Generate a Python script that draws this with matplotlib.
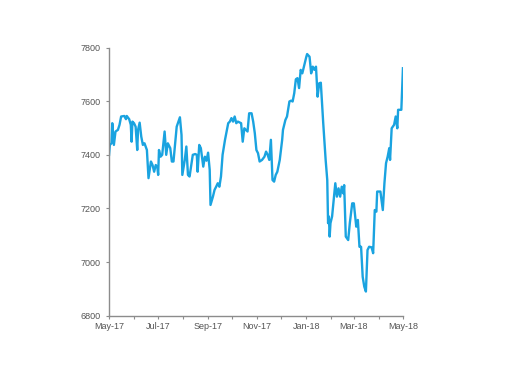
import matplotlib
matplotlib.use("Agg")
import matplotlib.pyplot as plt
import matplotlib.dates as mdates
import numpy as np
import pandas as pd

start_date = "2017-05-01"
day_offsets = [0, 1, 3, 4, 6, 8, 11, 13, 15, 19, 21, 22, 25, 27, 28, 29, 31, 33, 35, 36,
               38, 40, 42, 44, 47, 49, 52, 54, 56, 58, 60, 61, 62, 64, 66, 69, 71, 73, 76, 78,
               80, 84, 88, 90, 91, 94, 96, 98, 100, 104, 107, 109, 110, 112, 114, 117, 119, 121, 123, 125,
               126, 129, 131, 133, 135, 137, 139, 141, 144, 148, 150, 152, 154, 156, 158, 160, 164, 166, 168, 170,
               172, 174, 177, 179, 181, 183, 185, 187, 190, 193, 195, 197, 199, 201, 203, 205, 207, 209, 212, 215,
               216, 219, 221, 224, 226, 228, 230, 232, 234, 236, 238, 240, 242, 245, 246, 249, 251, 253, 255, 257,
               259, 261, 263, 266, 269, 271, 272, 273, 274, 275, 277, 281, 283, 285, 287, 289, 291, 292, 294, 297,
               299, 302, 304, 307, 309, 311, 313, 315, 317, 319, 321, 323, 326, 328, 330, 332, 333, 337, 340, 342,
               344, 346, 348, 349, 351, 354, 356, 358, 359, 363, 365]
index_values = [7400, 7437, 7443, 7518, 7437, 7487, 7493, 7512, 7543, 7545, 7533, 7545, 7533, 7512, 7449, 7524, 7518, 7505, 7418, 7493,
                7520, 7468, 7437, 7443, 7418, 7313, 7375, 7362, 7337, 7362, 7354, 7325, 7418, 7393, 7400, 7487, 7400, 7443, 7425, 7375,
                7375, 7505, 7540, 7474, 7325, 7380, 7431, 7325, 7319, 7400, 7403, 7400, 7337, 7437, 7425, 7356, 7393, 7378, 7408, 7344,
                7213, 7244, 7269, 7281, 7294, 7281, 7319, 7400, 7456, 7518, 7524, 7537, 7524, 7543, 7518, 7524, 7518, 7449, 7499, 7493,
                7487, 7555, 7555, 7524, 7481, 7418, 7406, 7375, 7381, 7393, 7412, 7400, 7381, 7456, 7306, 7300, 7325, 7337, 7381, 7456,
                7493, 7530, 7543, 7599, 7602, 7599, 7630, 7682, 7686, 7649, 7717, 7704, 7729, 7766, 7776, 7766, 7704, 7729, 7717, 7729,
                7617, 7667, 7669, 7518, 7381, 7306, 7145, 7170, 7095, 7145, 7170, 7294, 7244, 7275, 7244, 7281, 7256, 7287, 7095, 7082,
                7145, 7219, 7219, 7132, 7157, 7057, 7057, 6945, 6908, 6890, 7045, 7057, 7055, 7033, 7194, 7188, 7263, 7263, 7194, 7294,
                7369, 7393, 7425, 7381, 7499, 7512, 7543, 7499, 7568, 7568, 7723]
y_ticks = [6800, 7000, 7200, 7400, 7600, 7800]

dates = pd.Timestamp(start_date) + pd.to_timedelta(day_offsets, unit="D")

fig = plt.figure(figsize=(5.12, 3.84), dpi=100)
ax = fig.add_axes([0.213, 0.178, 0.574, 0.698])
ax.plot(dates, index_values, color="#1aa3e0", linewidth=1.7)

ax.set_xlim(pd.Timestamp("2017-05-01"), pd.Timestamp("2018-05-01"))
ax.set_ylim(6800, 7800)
ax.set_yticks(y_ticks)
ax.xaxis.set_major_locator(mdates.MonthLocator(bymonth=[1, 3, 5, 7, 9, 11]))
ax.xaxis.set_minor_locator(mdates.MonthLocator())
ax.xaxis.set_major_formatter(mdates.DateFormatter("%b-%y"))

for s in ["top", "right"]:
    ax.spines[s].set_visible(False)
for s in ["left", "bottom"]:
    ax.spines[s].set_color("#8c8c8c")
    ax.spines[s].set_linewidth(1.0)

ax.tick_params(axis="both", which="both", colors="#8c8c8c", labelcolor="#555555",
               labelsize=6.5, length=2.5, width=0.8, direction="out")
ax.tick_params(axis="x", which="major", pad=2)
for lab in ax.get_xticklabels() + ax.get_yticklabels():
    lab.set_fontfamily(["Liberation Sans", "DejaVu Sans"])

fig.savefig("out.png", dpi=100)
